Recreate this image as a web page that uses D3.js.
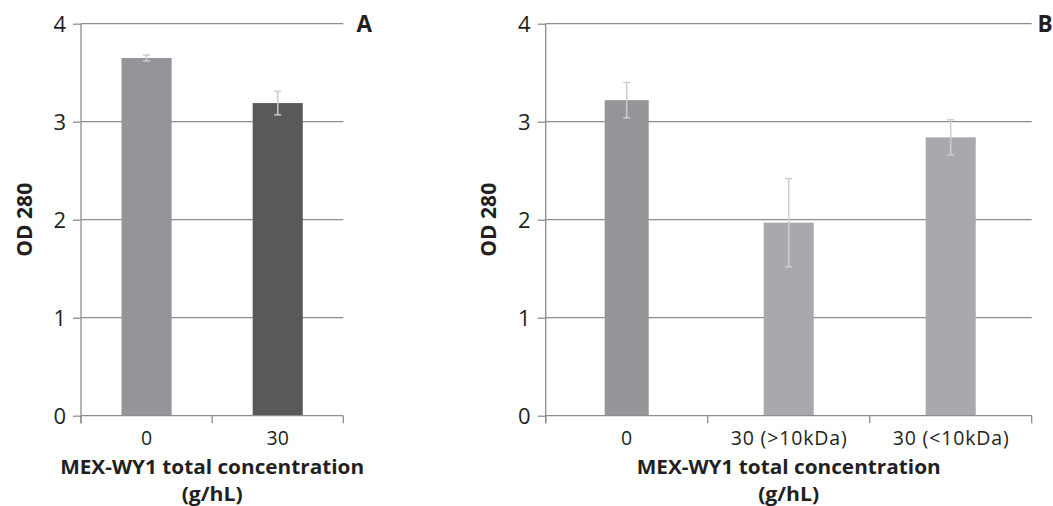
<!DOCTYPE html>
<html><head><meta charset="utf-8">
<script src="https://cdn.jsdelivr.net/npm/d3@7"></script>
<style>
html,body{margin:0;padding:0;background:#fff;}
svg{display:block;font-family:"Open Sans","Noto Sans",sans-serif;}
</style></head>
<body>
<svg id="chart" width="1053" height="506"></svg>
<script>
// ---- data ----
const categoriesA = ["0", "30"];
const valuesA = [3.65, 3.19];
const errorsA = [0.03, 0.12];
const categoriesB = ["0", "30 (>10kDa)", "30 (<10kDa)"];
const valuesB = [3.22, 1.97, 2.84];
const errorsB = [0.18, 0.45, 0.18];
const yTickValues = [0, 1, 2, 3, 4];
const yAxisTitle = "OD 280";
const xAxisTitle = ["MEX-WY1 total concentration", "(g/hL)"];

// ---- styles / layout ----
const colorsA = ["#939598", "#58595b"];
const colorsB = ["#939598", "#a7a9ac", "#a7a9ac"];
const widthFactorB = [0.88, 1, 1];
const textColor = "#231f20";
const gridColor = "#8d8d8d";
const errColor = "#cdcdcd";

const svg = d3.select("#chart");

function panel(o) {
  const g = svg.append("g");
  const y = d3.scaleLinear().domain([0, 4]).range([415.7, 23.7]);
  const x = d3.scaleBand().domain(o.cats).range([o.x0, o.x1])
    .paddingInner(o.pad).paddingOuter(o.pad / 2);

  // gridlines
  g.selectAll(".grid").data(yTickValues.filter(d => d > 0)).join("line")
    .attr("x1", o.x0).attr("x2", o.x1)
    .attr("y1", d => y(d)).attr("y2", d => y(d))
    .attr("stroke", gridColor).attr("stroke-width", 1.3);

  // bars
  g.selectAll(".bar").data(o.vals).join("rect")
    .attr("x", (d, i) => x(o.cats[i]) + x.bandwidth() * (1 - o.wf[i]) / 2)
    .attr("width", (d, i) => x.bandwidth() * o.wf[i])
    .attr("y", d => y(d)).attr("height", d => y(0) - y(d))
    .attr("fill", (d, i) => o.colors[i]);

  // error bars
  const eb = g.selectAll(".err").data(o.vals).join("g")
    .attr("transform", (d, i) => `translate(${x(o.cats[i]) + x.bandwidth() / 2},0)`);
  eb.append("line").attr("x1", 0).attr("x2", 0)
    .attr("y1", (d, i) => y(d + o.errs[i])).attr("y2", (d, i) => y(d - o.errs[i]))
    .attr("stroke", errColor).attr("stroke-width", 1.5);
  eb.append("line").attr("x1", -3.5).attr("x2", 3.5)
    .attr("y1", (d, i) => y(d + o.errs[i])).attr("y2", (d, i) => y(d + o.errs[i]))
    .attr("stroke", errColor).attr("stroke-width", 1.5);
  eb.append("line").attr("x1", -3.5).attr("x2", 3.5)
    .attr("y1", (d, i) => y(d - o.errs[i])).attr("y2", (d, i) => y(d - o.errs[i]))
    .attr("stroke", errColor).attr("stroke-width", 1.5);

  // y axis
  const ya = g.append("g").attr("transform", `translate(${o.x0},0)`)
    .call(d3.axisLeft(y).tickValues(yTickValues).tickSize(8).tickSizeOuter(0).tickPadding(7).tickFormat(d3.format("d")));
  ya.select(".domain").remove();
  ya.selectAll(".tick line").attr("stroke", gridColor).attr("stroke-width", 1.3);
  ya.selectAll(".tick text").attr("fill", textColor).style("font-size", "22px")
    .style("font-family", '"Open Sans",sans-serif').attr("dy", "0.36em");
  g.append("line").attr("x1", o.x0).attr("x2", o.x0).attr("y1", y(4)).attr("y2", y(0) + 7.6)
    .attr("stroke", gridColor).attr("stroke-width", 1.3);

  // x axis
  g.append("line").attr("x1", o.x0).attr("x2", o.x1).attr("y1", y(0)).attr("y2", y(0))
    .attr("stroke", gridColor).attr("stroke-width", 1.3);
  const bounds = d3.range(o.cats.length + 1).map(i => o.x0 + i * x.step());
  g.selectAll(".xt").data(bounds).join("line")
    .attr("x1", d => d).attr("x2", d => d).attr("y1", y(0)).attr("y2", y(0) + 7.6)
    .attr("stroke", gridColor).attr("stroke-width", 1.3);
  g.selectAll(".xl").data(o.cats).join("text")
    .attr("x", d => x(d) + x.bandwidth() / 2).attr("y", 444.5)
    .attr("text-anchor", "middle").attr("fill", textColor)
    .style("font-size", "19.5px")
    .each(function (d) { if (d.length > 3) d3.select(this).attr("textLength", 116); })
    .text(d => d);

  // x title
  const cx = (o.x0 + o.x1) / 2;
  g.append("text").attr("x", cx).attr("y", 474).attr("text-anchor", "middle")
    .attr("fill", textColor).style("font-size", "20px").style("font-weight", 700)
    .attr("textLength", 304).attr("lengthAdjust", "spacingAndGlyphs").text(xAxisTitle[0]);
  g.append("text").attr("x", cx).attr("y", 500.5).attr("text-anchor", "middle")
    .attr("fill", textColor).style("font-size", "20px").style("font-weight", 700)
    .attr("textLength", 61).attr("lengthAdjust", "spacingAndGlyphs").text(xAxisTitle[1]);

  // y title
  g.append("text").attr("transform", `translate(${o.x0 - 49.3},219.8) rotate(-90)`)
    .attr("text-anchor", "middle").attr("fill", textColor)
    .style("font-size", "22px").style("font-weight", 700)
    .attr("textLength", 74).attr("lengthAdjust", "spacingAndGlyphs").text(yAxisTitle);

  // panel letter
  g.append("text").attr("x", o.lx).attr("y", 31.7).attr("fill", textColor)
    .style("font-size", "22.5px").style("font-weight", 700).text(o.letter);
}

panel({cats: categoriesA, vals: valuesA, errs: errorsA, colors: colorsA, wf: [1, 1],
  x0: 81, x1: 343.3, pad: 0.618, letter: "A", lx: 356.5});
panel({cats: categoriesB, vals: valuesB, errs: errorsB, colors: colorsB, wf: widthFactorB,
  x0: 545.7, x1: 1031.7, pad: 0.691, letter: "B", lx: 1037.5});
</script>
</body></html>
